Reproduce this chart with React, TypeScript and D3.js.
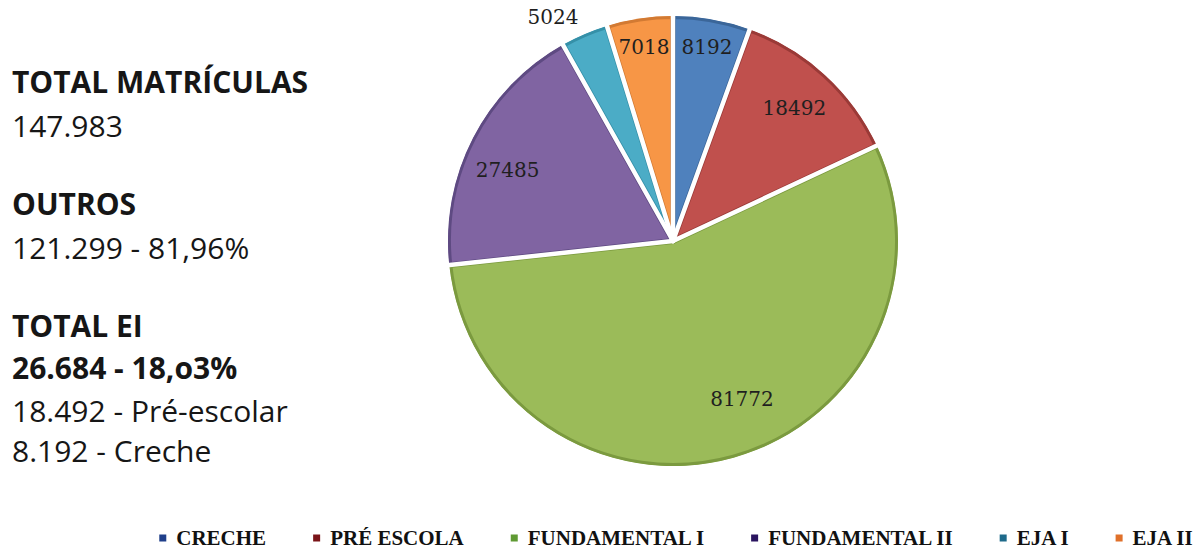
import React, { useEffect, useRef } from "react";
import * as d3 from "d3";

const categories = ["CRECHE", "PRÉ ESCOLA", "FUNDAMENTAL I", "FUNDAMENTAL II", "EJA I", "EJA II"];
const values = [8192, 18492, 81772, 27485, 5024, 7018];
const fillColors = ["#4F81BD", "#C0504D", "#9BBB59", "#8064A2", "#4BACC6", "#F79646"];
const edgeColors = ["#3B6699", "#9A3A37", "#7B9A3F", "#5E4A82", "#3590A8", "#D27A33"];
const legendColors = ["#1F3F8A", "#7A1418", "#5F9A33", "#2A1560", "#1E6A8A", "#E0702A"];
// label placement (radius factor, angle shift in degrees) – Excel "best fit"
const labelPlacement: [number, number][] = [
  [0.875, 0],
  [0.8, 0],
  [0.765, -8],
  [0.8, -4],
  [1.13, -5],
  [0.87, 0],
];

const sideLines: { text: string; bold: boolean; baseline: number }[] = [
  { text: "TOTAL MATRÍCULAS", bold: true, baseline: 93 },
  { text: "147.983", bold: false, baseline: 137 },
  { text: "OUTROS", bold: true, baseline: 215 },
  { text: "121.299 - 81,96%", bold: false, baseline: 259 },
  { text: "TOTAL EI", bold: true, baseline: 337 },
  { text: "26.684 - 18,o3%", bold: true, baseline: 379 },
  { text: "18.492 - Pré-escolar", bold: false, baseline: 422 },
  { text: "8.192 - Creche", bold: false, baseline: 462 },
];

const W = 1202;
const H = 552;

export default function App() {
  const ref = useRef<SVGSVGElement | null>(null);

  useEffect(() => {
    const svg = d3.select(ref.current);
    svg.selectAll("*").remove();

    const cx = 673;
    const cy = 241;
    const r = 225;

    const pie = d3
      .pie<number>()
      .sort(null)
      .value((d) => d);
    const arcs = pie(values);
    const arc = d3.arc<d3.PieArcDatum<number>>().innerRadius(0).outerRadius(r);

    const defs = svg.append("defs");
    defs
      .selectAll("clipPath")
      .data(arcs)
      .join("clipPath")
      .attr("id", (_, i) => `slice-clip-${i}`)
      .append("path")
      .attr("d", arc as any);

    const g = svg.append("g").attr("transform", `translate(${cx},${cy})`);

    g.selectAll("path.slice")
      .data(arcs)
      .join("path")
      .attr("class", "slice")
      .attr("d", arc as any)
      .attr("clip-path", (_, i) => `url(#slice-clip-${i})`)
      .attr("fill", (_, i) => fillColors[i])
      .attr("stroke", (_, i) => edgeColors[i])
      .attr("stroke-width", 6)
      .attr("stroke-linejoin", "round");

    // white separators along slice boundaries (radial lines)
    g.selectAll("line.sep")
      .data(arcs)
      .join("line")
      .attr("class", "sep")
      .attr("x1", 0)
      .attr("y1", 0)
      .attr("x2", (d) => Math.sin(d.startAngle) * (r + 2))
      .attr("y2", (d) => -Math.cos(d.startAngle) * (r + 2))
      .attr("stroke", "#ffffff")
      .attr("stroke-width", 4.5)
      .attr("stroke-linecap", "round");

    g.selectAll("text.lbl")
      .data(arcs)
      .join("text")
      .attr("class", "lbl")
      .attr("x", (d, i) => {
        const a = (d.startAngle + d.endAngle) / 2 + (labelPlacement[i][1] * Math.PI) / 180;
        return Math.sin(a) * r * labelPlacement[i][0];
      })
      .attr("y", (d, i) => {
        const a = (d.startAngle + d.endAngle) / 2 + (labelPlacement[i][1] * Math.PI) / 180;
        return -Math.cos(a) * r * labelPlacement[i][0];
      })
      .attr("text-anchor", "middle")
      .attr("dominant-baseline", "central")
      .attr("font-family", "'DejaVu Serif', serif")
      .attr("font-size", 20)
      .attr("fill", "#1f1f1f")
      .text((d) => String(d.data));

    // side text
    const side = svg.append("g");
    side
      .selectAll("text")
      .data(sideLines)
      .join("text")
      .attr("x", 12)
      .attr("y", (d) => d.baseline)
      .attr("font-family", "'Open Sans', sans-serif")
      .attr("font-size", 30)
      .attr("font-weight", (d) => (d.bold ? 700 : 400))
      .attr("fill", "#161616")
      .text((d) => d.text);

    // legend
    const legend = svg.append("g");
    const ly = 538;
    const marker = 7;
    const gapMT = 10;
    const gapItems = 47;
    const items = legend
      .selectAll("g")
      .data(categories)
      .join("g");
    items
      .append("text")
      .attr("font-family", "'Liberation Serif', serif")
      .attr("font-weight", 700)
      .attr("font-size", 21)
      .attr("fill", "#111")
      .attr("dominant-baseline", "central")
      .attr("y", ly)
      .text((d) => d);
    const widths: number[] = [];
    items.select<SVGTextElement>("text").each(function () {
      widths.push(this.getComputedTextLength());
    });
    const total =
      widths.reduce((s, w) => s + w + marker + gapMT, 0) + gapItems * (widths.length - 1);
    let x = cx + 3 - total / 2;
    items.each(function (_, i) {
      const gi = d3.select(this);
      gi.insert("rect", "text")
        .attr("x", x)
        .attr("y", ly - marker / 2)
        .attr("width", marker)
        .attr("height", marker)
        .attr("fill", legendColors[i]);
      gi.select("text").attr("x", x + marker + gapMT);
      x += marker + gapMT + widths[i] + gapItems;
    });
  }, []);

  return (
    <svg
      ref={ref}
      width={W}
      height={H}
      style={{ position: "absolute", left: 0, top: 0, background: "#ffffff" }}
    />
  );
}
